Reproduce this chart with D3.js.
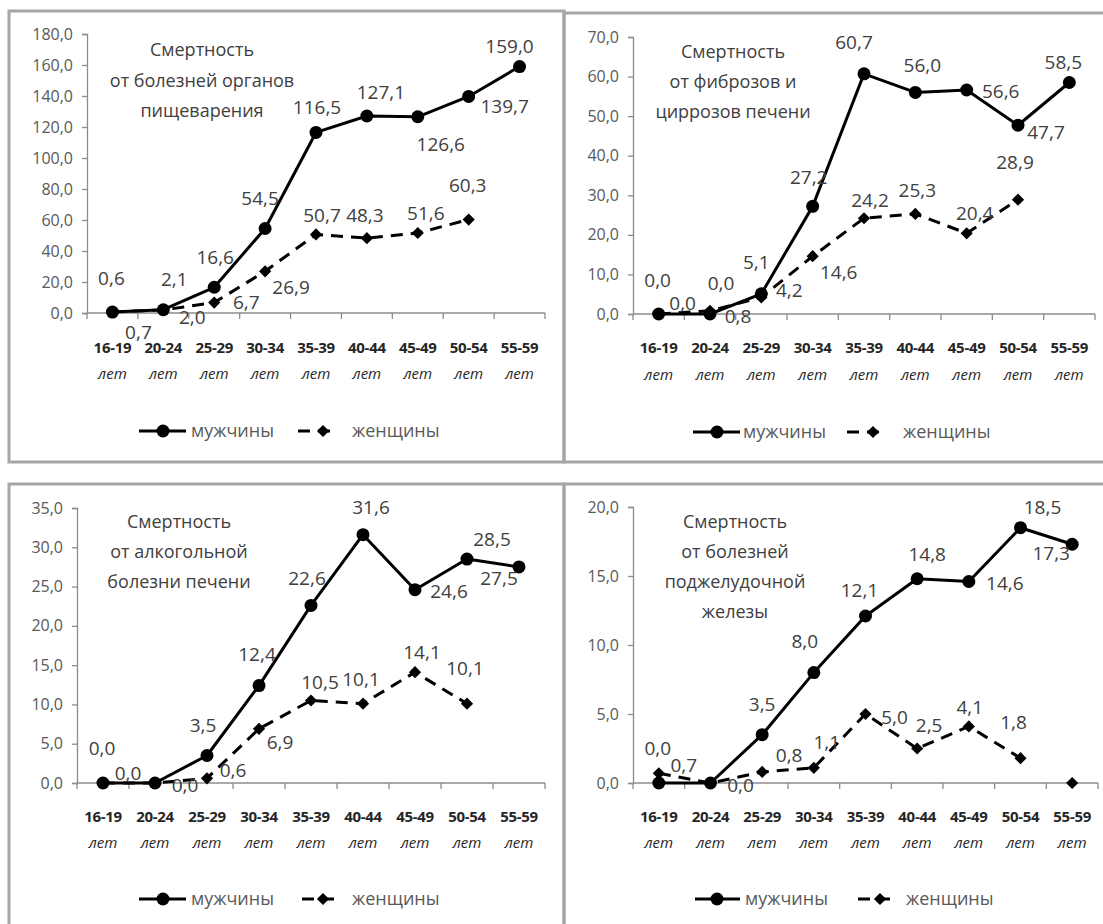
<!DOCTYPE html>
<html><head><meta charset="utf-8">
<script src="https://cdn.jsdelivr.net/npm/d3@7"></script>
<style>
body{margin:0;background:#fff;}
svg{display:block;font-family:"Open Sans","Noto Sans",sans-serif;}
</style></head><body>
<svg id="c" width="1103" height="924"></svg>
<script>
// ---------- data ----------
const categories = ["16-19","20-24","25-29","30-34","35-39","40-44","45-49","50-54","55-59"];
const ageSuffix = "лет";
const legendMen = "мужчины";
const legendWomen = "женщины";

const digestiveTitle = ["Смертность","от болезней органов","пищеварения"];
const digestiveTicks = [0,20,40,60,80,100,120,140,160,180];
const digestiveMen   = [0.6, 2.1, 16.6, 54.5, 116.5, 127.1, 126.6, 139.7, 159.0];
const digestiveWomen = [0.7, 2.0, 6.7, 26.9, 50.7, 48.3, 51.6, 60.3, null];

const cirrhosisTitle = ["Смертность","от фиброзов и","циррозов печени"];
const cirrhosisTicks = [0,10,20,30,40,50,60,70];
const cirrhosisMen   = [0.0, 0.0, 5.1, 27.2, 60.7, 56.0, 56.6, 47.7, 58.5];
const cirrhosisWomen = [0.0, 0.8, 4.2, 14.6, 24.2, 25.3, 20.4, 28.9, null];

const alcoholTitle = ["Смертность","от алкогольной","болезни печени"];
const alcoholTicks = [0,5,10,15,20,25,30,35];
const alcoholMen   = [0.0, 0.0, 3.5, 12.4, 22.6, 31.6, 24.6, 28.5, 27.5];
const alcoholWomen = [0.0, 0.0, 0.6, 6.9, 10.5, 10.1, 14.1, 10.1, null];

const pancreasTitle = ["Смертность","от болезней","поджелудочной","железы"];
const pancreasTicks = [0,5,10,15,20];
const pancreasMen   = [0.0, 0.0, 3.5, 8.0, 12.1, 14.8, 14.6, 18.5, 17.3];
const pancreasWomen = [0.7, 0.0, 0.8, 1.1, 5.0, 2.5, 4.1, 1.8, 0.0];

// ---------- label placement (pixel offsets from the point, null = no label) ----------
const digestiveMenLab   = [[-1,-34],[11,-30],[1,-30],[-5,-30],[1,-25],[14,-24],[23,28],[36,10],[-10,-20]];
const digestiveWomenLab = [[26,20],[29,7],[32,0],[26,16],[6,-19],[-2,-23],[8,-20],[-1,-34],null];
const cirrhosisMenLab   = [[-1,-34],[11,-31],[-5,-31],[-4,-29],[-10,-31],[7,-27],[34,1],[28,7],[-6,-20]];
const cirrhosisWomenLab = [[24,-11],[28,6],[28,-7],[26,16],[6,-18],[2,-24],[8,-20],[-3,-37],null];
const alcoholMenLab     = [[-1,-35],[-27,-10],[-4,-30],[-2,-31],[-4,-27],[8,-27],[34,2],[25,-20],[-20,11]];
const alcoholWomenLab   = [null,[30,2],[26,-8],[21,14],[9,-18],[-2,-24],[7,-20],[-2,-35],null];
const pancreasMenLab    = [[-1,-35],null,[0,-30],[-9,-31],[-6,-26],[10,-24],[36,2],[22,-20],[-21,9]];
const pancreasWomenLab  = [[25,-8],[30,2],[27,-17],[13,-25],[29,3],[12,-23],[1,-19],[-7,-36],null];

// ---------- layout ----------
const panels = [
  {title:digestiveTitle, ticks:digestiveTicks, men:digestiveMen, women:digestiveWomen,
   menLab:digestiveMenLab, womenLab:digestiveWomenLab, womenLineCount:9,
   frame:[9,11,564,462], ax:[87,545], ay:[313,34], titleX:202, titleY:[50,81,111],
   catY:[348,374], legY:431, legMen:[139,186,163,191], legWomen:[298,336,323,352]},
  {title:cirrhosisTitle, ticks:cirrhosisTicks, men:cirrhosisMen, women:cirrhosisWomen,
   menLab:cirrhosisMenLab, womenLab:cirrhosisWomenLab, womenLineCount:9,
   frame:[564,13,1115,462], ax:[633,1095], ay:[314,37], titleX:733, titleY:[52,82,112],
   catY:[348,375], legY:432, legMen:[693,740,717,743], legWomen:[847,887,873,903]},
  {title:alcoholTitle, ticks:alcoholTicks, men:alcoholMen, women:alcoholWomen,
   menLab:alcoholMenLab, womenLab:alcoholWomenLab, womenLineCount:9,
   frame:[9,484,564,935], ax:[77,545], ay:[783,508], titleX:179, titleY:[522,552,582],
   catY:[817,843], legY:899, legMen:[139,186,163,191], legWomen:[302,336,323,352]},
  {title:pancreasTitle, ticks:pancreasTicks, men:pancreasMen, women:pancreasWomen,
   menLab:pancreasMenLab, womenLab:pancreasWomenLab, womenLineCount:8,
   frame:[564,484,1115,935], ax:[633,1098], ay:[783,507], titleX:735, titleY:[522,552,582,612],
   catY:[817,843], legY:899, legMen:[695,740,717,745], legWomen:[858,892,880,906]}
];

const svg = d3.select("#c");
const fmt = v => d3.format(".1f")(v).replace(".", ",");
const diamond = d3.symbol().type(d3.symbolDiamond2).size(95);

panels.forEach(p => {
  const g = svg.append("g");
  // frame
  g.append("rect").attr("x",p.frame[0]).attr("y",p.frame[1])
    .attr("width",p.frame[2]-p.frame[0]).attr("height",p.frame[3]-p.frame[1])
    .attr("fill","none").attr("stroke","#a6a6a6").attr("stroke-width",3);

  const x = d3.scaleBand().domain(categories).range(p.ax).paddingInner(0).paddingOuter(0);
  const y = d3.scaleLinear().domain([0, d3.max(p.ticks)]).range(p.ay);
  const cx = c => x(c) + x.bandwidth()/2;

  // y axis
  const yAxis = d3.axisLeft(y).tickValues(p.ticks).tickFormat(fmt).tickSize(5).tickPadding(9);
  const ya = g.append("g").attr("transform",`translate(${p.ax[0]},0)`).call(yAxis);
  ya.select(".domain").attr("stroke","#8c8c8c").attr("stroke-width",1.3);
  ya.selectAll(".tick line").attr("stroke","#8c8c8c").attr("stroke-width",1.3);
  ya.selectAll("text").attr("fill","#595959").attr("font-size",16).attr("font-family","Open Sans");

  // x axis: line + ticks at band boundaries
  const bounds = categories.map(c => x(c)).concat([p.ax[1]]);
  g.append("line").attr("x1",p.ax[0]).attr("x2",p.ax[1]).attr("y1",y(0)).attr("y2",y(0))
    .attr("stroke","#8c8c8c").attr("stroke-width",1.5);
  g.selectAll(".xt").data(bounds).enter().append("line")
    .attr("x1",d=>d).attr("x2",d=>d).attr("y1",y(0)).attr("y2",y(0)+6)
    .attr("stroke","#8c8c8c").attr("stroke-width",1.3);
  // category labels
  g.selectAll(".cat").data(categories).enter().append("text")
    .attr("x",d=>cx(d)).attr("y",p.catY[0]).attr("dy","0.35em").attr("text-anchor","middle")
    .attr("font-size",15).attr("font-weight","bold").attr("letter-spacing","-0.3")
    .attr("fill","#262626").text(d=>d);
  g.selectAll(".cat2").data(categories).enter().append("text")
    .attr("x",d=>cx(d)).attr("y",p.catY[1]).attr("dy","0.35em").attr("text-anchor","middle")
    .attr("font-size",15).attr("font-style","italic").attr("fill","#262626").text(ageSuffix);

  // title
  g.selectAll(".ttl").data(p.title).enter().append("text")
    .attr("x",p.titleX).attr("y",(d,i)=>p.titleY[i]).attr("dy","0.35em").attr("text-anchor","middle")
    .attr("font-size",18).attr("fill","#404040").text(d=>d);

  // women line (dashed)
  const wPts = p.women.map((v,i)=>({c:categories[i],v,i})).filter(d=>d.v!==null);
  const line = d3.line().x(d=>cx(d.c)).y(d=>y(d.v));
  g.append("path").datum(wPts.filter(d=>d.i < p.womenLineCount))
    .attr("d",line).attr("fill","none").attr("stroke","#000").attr("stroke-width",3)
    .attr("stroke-dasharray","12,8");
  g.selectAll(".wm").data(wPts).enter().append("path")
    .attr("d",diamond).attr("transform",d=>`translate(${cx(d.c)},${y(d.v)})`).attr("fill","#000");

  // men line (solid)
  const mPts = p.men.map((v,i)=>({c:categories[i],v,i})).filter(d=>d.v!==null);
  g.append("path").datum(mPts).attr("d",line).attr("fill","none")
    .attr("stroke","#000").attr("stroke-width",3).attr("stroke-linejoin","round");
  g.selectAll(".mm").data(mPts).enter().append("circle")
    .attr("cx",d=>cx(d.c)).attr("cy",d=>y(d.v)).attr("r",6.5).attr("fill","#000");

  // data labels
  const addLabels = (pts, offs) => {
    g.selectAll(null).data(pts.filter(d=>offs[d.i])).enter().append("text")
      .attr("x",d=>cx(d.c)+offs[d.i][0]).attr("y",d=>y(d.v)+offs[d.i][1]).attr("dy","0.35em")
      .attr("text-anchor","middle").attr("font-size",19).attr("fill","#404040").text(d=>fmt(d.v));
  };
  addLabels(wPts, p.womenLab);
  addLabels(mPts, p.menLab);

  // legend
  const ly = p.legY;
  g.append("line").attr("x1",p.legMen[0]).attr("x2",p.legMen[1]).attr("y1",ly).attr("y2",ly)
    .attr("stroke","#000").attr("stroke-width",3);
  g.append("circle").attr("cx",p.legMen[2]).attr("cy",ly).attr("r",6.5).attr("fill","#000");
  g.append("text").attr("x",p.legMen[3]).attr("y",ly).attr("dy","0.35em")
    .attr("font-size",18).attr("fill","#595959").text(legendMen);
  g.append("line").attr("x1",p.legWomen[0]).attr("x2",p.legWomen[1]).attr("y1",ly).attr("y2",ly)
    .attr("stroke","#000").attr("stroke-width",3).attr("stroke-dasharray","12,8");
  g.append("path").attr("d",diamond).attr("transform",`translate(${p.legWomen[2]},${ly})`).attr("fill","#000");
  g.append("text").attr("x",p.legWomen[3]).attr("y",ly).attr("dy","0.35em")
    .attr("font-size",18).attr("fill","#595959").text(legendWomen);
});
</script>
</body></html>
